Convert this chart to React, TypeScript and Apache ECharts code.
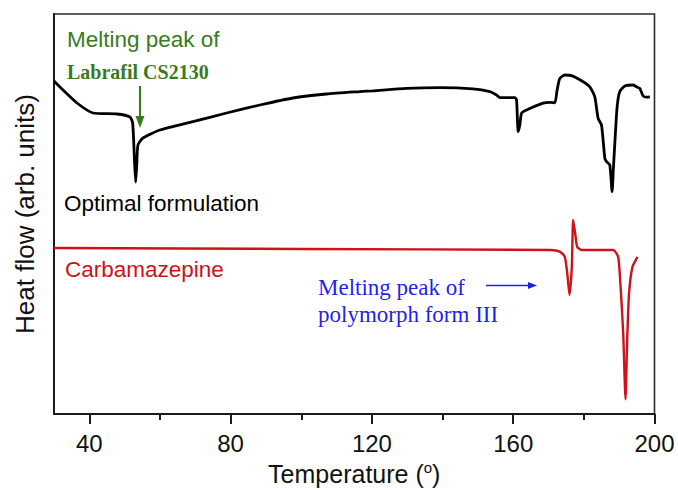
import React, { useEffect, useRef } from "react";
import * as echarts from "echarts";

// Optimal formulation (black) — temperature (°C) and heat flow (arb. units)
const optT = [30, 32.55, 36.5, 41.04, 47.83, 51.51, 52.27, 52.78, 53.12, 53.43, 53.77, 55.19, 60, 69.34, 78.87, 88.3, 97.64, 107.18, 116.6, 120.28, 129.8, 139.24, 148.58, 153.39, 155.29, 156.22, 160.47, 160.95, 161.4, 161.88, 162.36, 163.78, 168.47, 170.37, 171.78, 172.43, 173.2, 174.61, 176.51, 179.34, 181.69, 183.1, 184.04, 185.0, 185.94, 186.42, 187.35, 188.0, 188.34, 188.77, 189.42, 190.18, 191.6, 193.95, 194.91, 195.84, 196.78, 197.74, 198.7];
const optV = [83.25, 81, 77.75, 75.25, 75, 74.25, 72.75, 63.5, 58, 62.25, 67.25, 69, 71, 73.1, 75.25, 77.25, 79, 80, 80.6, 80.8, 81.4, 81.6, 81.3, 80.6, 79.75, 79.1, 79.1, 78.5, 70.6, 72.25, 75.2, 76, 77.7, 77.9, 77.8, 81, 83.9, 84.75, 84.6, 83.3, 81.8, 79.3, 73.9, 72.25, 63.9, 63.1, 62.25, 55.6, 61, 67.7, 76.8, 80.6, 82, 82.25, 81.8, 81.4, 79.5, 79.2, 79.3];

// Carbamazepine (red)
const cbzT = [30, 99.6, 170.65, 173.2, 174.6, 175.3, 175.94, 176.6, 176.97, 177.54, 178.1, 179.34, 188.3, 189.7, 190.4, 191.14, 191.8, 192.27, 192.8, 193.77, 195.2];
const cbzV = [41.5, 41.25, 41, 40.6, 39.3, 35.2, 29.75, 36.8, 48.5, 45.2, 41.8, 41, 41, 39.3, 31.8, 20.2, 3.7, 18.5, 30.2, 36.8, 39.3];

const majorTicks = [40, 80, 120, 160, 200];
const minorTicks = [60, 100, 140, 180];

const SANS = "'Liberation Sans', Arial, sans-serif";
const SERIF = "'Liberation Serif', 'Times New Roman', serif";
const GREEN = "#3a7a1f";
const BLUE = "#1f1ff0";
const RED = "#cf1119";

export default function App() {
  const ref = useRef<HTMLDivElement>(null);
  useEffect(() => {
    if (!ref.current) return;
    const chart = echarts.init(ref.current, null, { renderer: "svg" });
    const opt = optT.map((t, i) => [t, optV[i]]);
    const cbz = cbzT.map((t, i) => [t, cbzV[i]]);
    chart.setOption({
      animation: false,
      backgroundColor: "#ffffff",
      grid: {
        left: 54,
        right: 23.5,
        top: 14,
        bottom: 76,
        outerBoundsMode: "none",
        containLabel: false,
        show: true,
        borderColor: "#2a2a2a",
        borderWidth: 1.6,
        backgroundColor: "transparent",
      },
      xAxis: [
        {
          type: "value",
          min: 30,
          max: 200,
          position: "bottom",
          name: "Temperature ({sup|o})",
          nameLocation: "middle",
          nameGap: 46,
          nameTextStyle: {
            fontFamily: SANS,
            fontSize: 25,
            color: "#111",
            rich: {
              sup: { fontFamily: SANS, fontSize: 15, color: "#111", padding: [0, 0, 12, 0] },
            },
          },
          axisLine: { show: true, lineStyle: { color: "#1a1a1a", width: 2 } },
          axisTick: {
            show: true,
            inside: false,
            length: 10,
            customValues: majorTicks,
            lineStyle: { color: "#1a1a1a", width: 2 },
          },
          axisLabel: {
            show: true,
            customValues: majorTicks,
            fontFamily: SANS,
            fontSize: 24,
            color: "#111",
            margin: 17,
          },
          splitLine: { show: false },
        },
        {
          type: "value",
          min: 30,
          max: 200,
          position: "bottom",
          axisLine: { show: false },
          axisTick: {
            show: true,
            inside: false,
            length: 6,
            customValues: minorTicks,
            lineStyle: { color: "#1a1a1a", width: 2 },
          },
          axisLabel: { show: false },
          splitLine: { show: false },
        },
      ],
      yAxis: {
        type: "value",
        min: 0,
        max: 100,
        name: "Heat flow (arb. units)",
        nameLocation: "middle",
        nameGap: 16,
        nameTextStyle: { fontFamily: SANS, fontSize: 26, color: "#111" },
        axisLine: { show: true, lineStyle: { color: "#1a1a1a", width: 2 } },
        axisTick: { show: false },
        axisLabel: { show: false },
        splitLine: { show: false },
      },
      series: [
        {
          name: "Optimal formulation",
          type: "line",
          data: opt,
          showSymbol: false,
          smooth: 0.2,
          lineStyle: { color: "#000", width: 2.8 },
        },
        {
          name: "Carbamazepine",
          type: "line",
          data: cbz,
          showSymbol: false,
          smooth: 0.2,
          lineStyle: { color: RED, width: 2.4 },
        },
      ],
      graphic: [
        {
          type: "text",
          x: 67,
          y: 39,
          style: { text: "Melting peak of", font: `22.5px ${SANS}`, fill: GREEN, textVerticalAlign: "middle" },
        },
        {
          type: "text",
          x: 67,
          y: 72,
          style: { text: "Labrafil CS2130", font: `bold 20px ${SERIF}`, fill: GREEN, textVerticalAlign: "middle" },
        },
        {
          type: "line",
          shape: { x1: 140, y1: 86, x2: 140, y2: 120 },
          style: { stroke: GREEN, lineWidth: 2 },
        },
        {
          type: "polygon",
          shape: { points: [[135.5, 116], [144.5, 116], [140, 128]] },
          style: { fill: GREEN },
        },
        {
          type: "text",
          x: 64,
          y: 203,
          style: { text: "Optimal formulation", font: `22.5px ${SANS}`, fill: "#000", textVerticalAlign: "middle" },
        },
        {
          type: "text",
          x: 65,
          y: 269,
          style: { text: "Carbamazepine", font: `22.5px ${SANS}`, fill: RED, textVerticalAlign: "middle" },
        },
        {
          type: "text",
          x: 318,
          y: 287,
          style: { text: "Melting peak of", font: `23px ${SERIF}`, fill: BLUE, textVerticalAlign: "middle" },
        },
        {
          type: "text",
          x: 318,
          y: 314,
          style: { text: "polymorph form III", font: `23px ${SERIF}`, fill: BLUE, textVerticalAlign: "middle" },
        },
        {
          type: "line",
          shape: { x1: 486, y1: 285.5, x2: 530, y2: 285.5 },
          style: { stroke: BLUE, lineWidth: 1.6 },
        },
        {
          type: "polygon",
          shape: { points: [[528, 282], [528, 289], [537, 285.5]] },
          style: { fill: BLUE },
        },
      ],
    });
    return () => chart.dispose();
  }, []);
  return <div ref={ref} style={{ width: 678, height: 490, position: "absolute", left: 0, top: 0 }} />;
}
